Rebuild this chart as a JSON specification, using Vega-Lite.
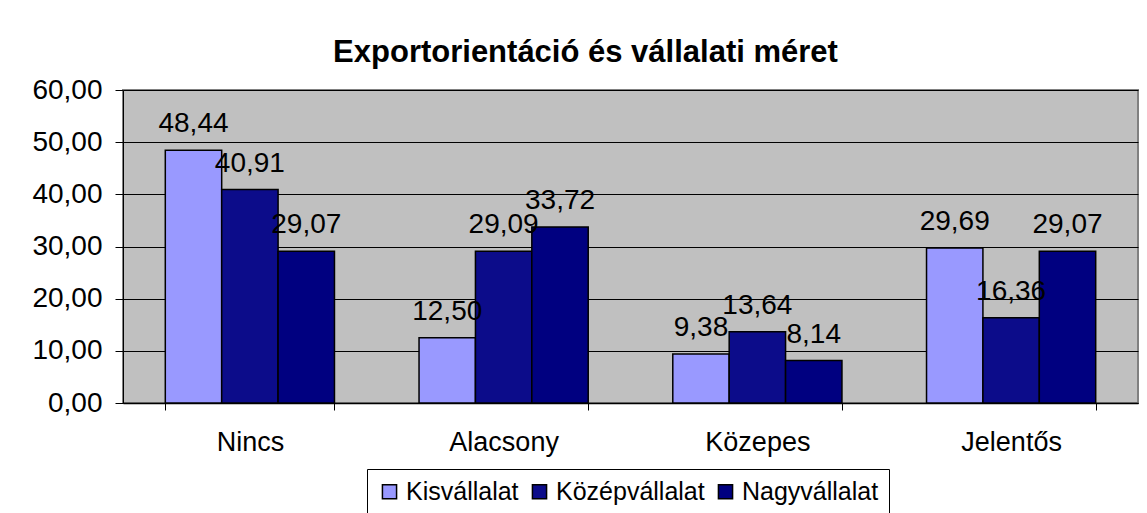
{
  "$schema": "https://vega.github.io/schema/vega-lite/v6.json",
  "width": 1015,
  "height": 313,
  "autosize": {"type": "none"},
  "padding": {"left": 123, "top": 90, "right": 9, "bottom": 110},
  "background": "#FFFFFF",
  "title": {
    "text": "Exportorientáció és vállalati méret",
    "font": "Liberation Sans",
    "fontSize": 31,
    "fontWeight": "bold",
    "color": "#000000",
    "anchor": "middle",
    "dx": -45,
    "offset": 7
  },
  "data": {
    "values": [
      {"kategoria": "Nincs", "meret": "Kisvállalat", "ertek": 48.44},
      {"kategoria": "Nincs", "meret": "Középvállalat", "ertek": 40.91},
      {"kategoria": "Nincs", "meret": "Nagyvállalat", "ertek": 29.07},
      {"kategoria": "Alacsony", "meret": "Kisvállalat", "ertek": 12.50},
      {"kategoria": "Alacsony", "meret": "Középvállalat", "ertek": 29.09},
      {"kategoria": "Alacsony", "meret": "Nagyvállalat", "ertek": 33.72},
      {"kategoria": "Közepes", "meret": "Kisvállalat", "ertek": 9.38},
      {"kategoria": "Közepes", "meret": "Középvállalat", "ertek": 13.64},
      {"kategoria": "Közepes", "meret": "Nagyvállalat", "ertek": 8.14},
      {"kategoria": "Jelentős", "meret": "Kisvállalat", "ertek": 29.69},
      {"kategoria": "Jelentős", "meret": "Középvállalat", "ertek": 16.36},
      {"kategoria": "Jelentős", "meret": "Nagyvállalat", "ertek": 29.07}
    ]
  },
  "encoding": {
    "x": {
      "field": "kategoria",
      "type": "nominal",
      "sort": ["Nincs", "Alacsony", "Közepes", "Jelentős"],
      "scale": {"paddingInner": 0.3333, "paddingOuter": 0.1667},
      "axis": {
        "title": null,
        "labelAngle": 0,
        "labelFont": "Liberation Sans",
        "labelFontSize": 27,
        "labelColor": "#000000",
        "labelPadding": 19,
        "tickBand": "extent",
        "tickSize": 7,
        "tickColor": "#000000",
        "domainColor": "#000000",
        "domainWidth": 1.5,
        "grid": false
      }
    },
    "xOffset": {
      "field": "meret",
      "type": "nominal",
      "sort": ["Kisvállalat", "Középvállalat", "Nagyvállalat"],
      "scale": {"paddingInner": 0, "paddingOuter": 0}
    },
    "y": {
      "field": "ertek",
      "type": "quantitative",
      "scale": {"domain": [0, 60], "nice": false},
      "axis": {
        "title": null,
        "values": [0, 10, 20, 30, 40, 50, 60],
        "format": ".2f",
        "labelFont": "Liberation Sans",
        "labelFontSize": 28,
        "labelColor": "#000000",
        "labelPadding": 13,
        "tickSize": 8,
        "tickColor": "#000000",
        "domainColor": "#000000",
        "grid": true,
        "gridColor": "#000000",
        "gridWidth": 1
      }
    }
  },
  "layer": [
    {
      "mark": {"type": "bar", "stroke": "#000000", "strokeWidth": 1.5},
      "encoding": {
        "color": {
          "field": "meret",
          "type": "nominal",
          "sort": ["Kisvállalat", "Középvállalat", "Nagyvállalat"],
          "scale": {
            "domain": ["Kisvállalat", "Középvállalat", "Nagyvállalat"],
            "range": ["#9999FF", "#0C0C8A", "#000080"]
          },
          "legend": {
            "title": null,
            "orient": "none",
            "legendX": 244,
            "legendY": 379,
            "direction": "horizontal",
            "symbolType": "square",
            "symbolSize": 200,
            "symbolStrokeColor": "#000000",
            "symbolStrokeWidth": 1.5,
            "symbolOpacity": 1,
            "labelFont": "Liberation Sans",
            "labelFontSize": 25,
            "labelColor": "#000000",
            "labelOffset": 4,
            "columnPadding": 8,
            "padding": 10,
            "strokeColor": "#000000",
            "fillColor": "#FFFFFF"
          }
        }
      }
    },
    {
      "mark": {
        "type": "text",
        "baseline": "alphabetic",
        "align": "center",
        "dy": -18,
        "font": "Liberation Sans",
        "fontSize": 28,
        "color": "#000000"
      },
      "encoding": {
        "text": {"field": "ertek", "type": "quantitative", "format": ".2f"}
      }
    }
  ],
  "config": {
    "locale": {
      "number": {"decimal": ",", "thousands": " ", "grouping": [3], "currency": ["", ""]}
    },
    "view": {"fill": "#C0C0C0", "stroke": "#808080", "strokeWidth": 2}
  }
}
